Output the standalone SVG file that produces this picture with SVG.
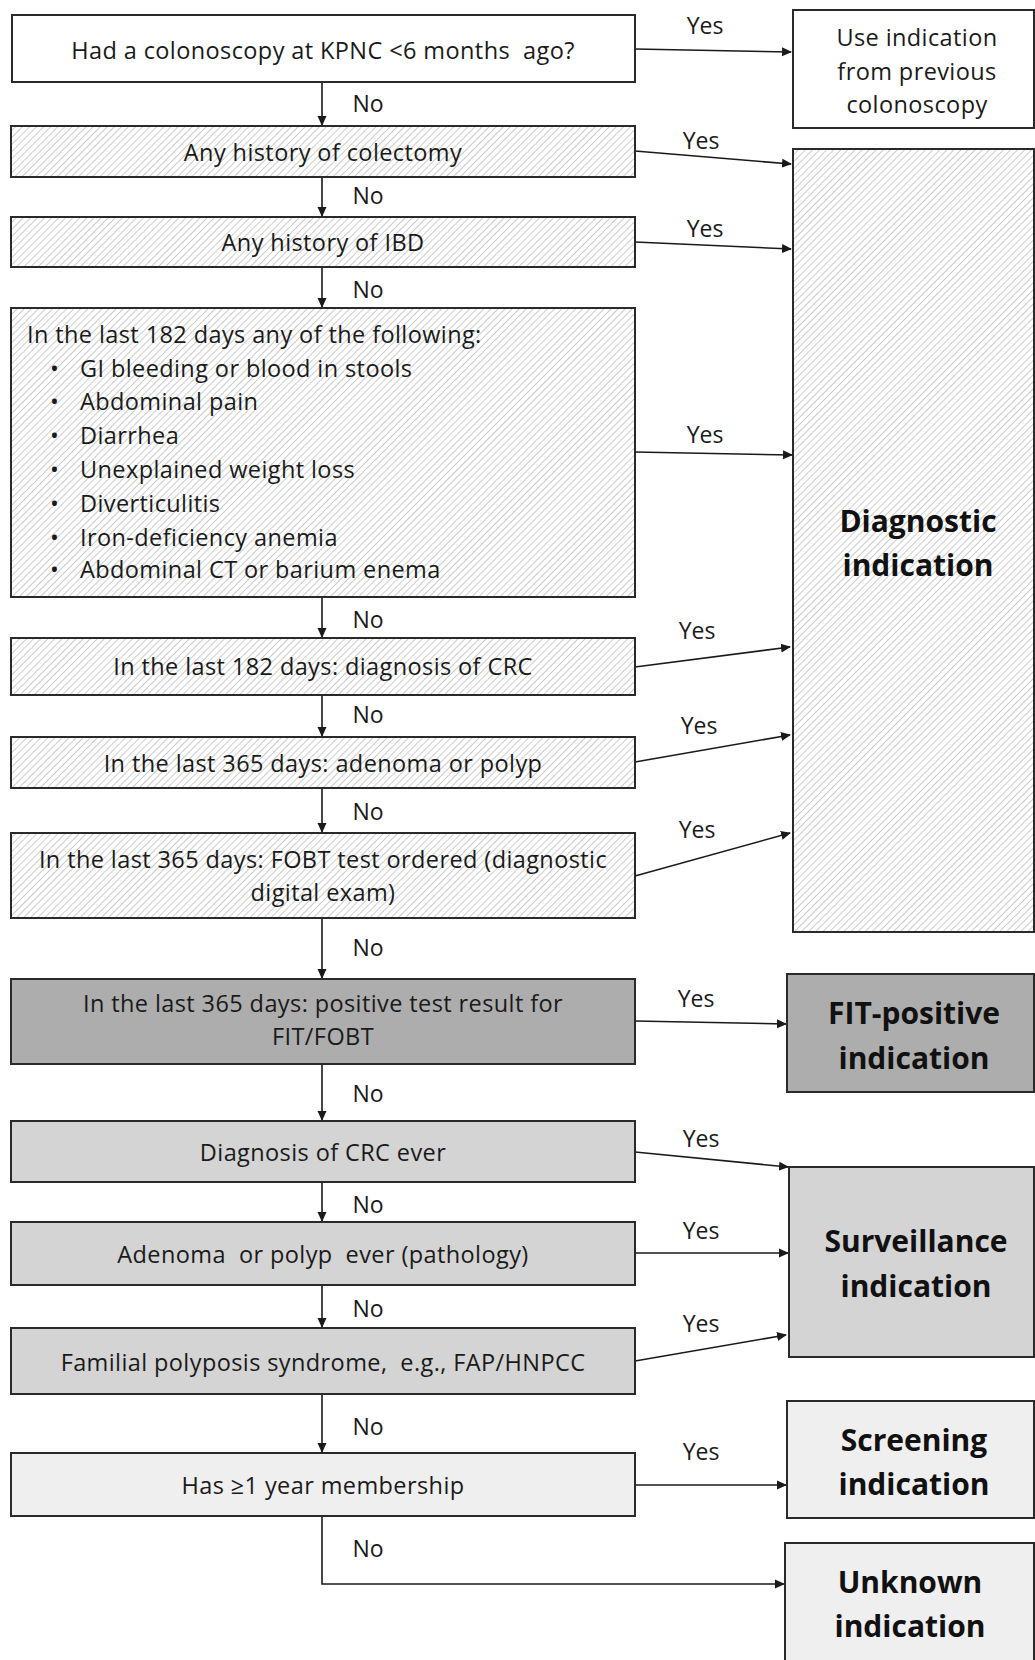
<svg xmlns="http://www.w3.org/2000/svg" width="1035" height="1660" viewBox="0 0 1035 1660">
<style>
.t{font-family:"Open Sans","Noto Sans","Liberation Sans",sans-serif;font-size:23.5px;letter-spacing:0.4px;fill:#1a1a1a;dominant-baseline:central;white-space:pre}
.c{text-anchor:middle}
.b{font-family:"Open Sans","Noto Sans","Liberation Sans",sans-serif;font-size:30px;font-weight:bold;fill:#111;text-anchor:middle;dominant-baseline:central}
.box{stroke:#2a2a2a;stroke-width:2}
.w{fill:#fff}
.h{fill:url(#hatch)}
.g1{fill:#adadad}
.g2{fill:#d4d4d4}
.g3{fill:#efefef}
.ln{stroke:#1a1a1a;stroke-width:1.6;fill:none}
.lbl{font-family:"Open Sans","Noto Sans","Liberation Sans",sans-serif;font-size:23px;fill:#1a1a1a;text-anchor:middle;dominant-baseline:central}
</style>
<defs>
<pattern id="hatch" patternUnits="userSpaceOnUse" width="5" height="5" patternTransform="rotate(45)">
<rect width="5" height="5" fill="#fff"/>
<line x1="0" y1="0" x2="0" y2="5" stroke="#b0b0b0" stroke-width="1.3"/>
</pattern>
<marker id="arr" markerWidth="10" markerHeight="10" refX="9" refY="5" orient="auto" markerUnits="userSpaceOnUse">
<path d="M0,0.5 L10,5 L0,9.5 Z" fill="#1a1a1a"/>
</marker>
</defs>
<rect width="1035" height="1660" fill="#fff"/>

<g id="connectors">
<line class="ln" x1="322" y1="82" x2="322" y2="125" marker-end="url(#arr)"/>
<line class="ln" x1="322" y1="177" x2="322" y2="216" marker-end="url(#arr)"/>
<line class="ln" x1="322" y1="267" x2="322" y2="307" marker-end="url(#arr)"/>
<line class="ln" x1="322" y1="597" x2="322" y2="637" marker-end="url(#arr)"/>
<line class="ln" x1="322" y1="695" x2="322" y2="736" marker-end="url(#arr)"/>
<line class="ln" x1="322" y1="788" x2="322" y2="832" marker-end="url(#arr)"/>
<line class="ln" x1="322" y1="918" x2="322" y2="978" marker-end="url(#arr)"/>
<line class="ln" x1="322" y1="1064" x2="322" y2="1120" marker-end="url(#arr)"/>
<line class="ln" x1="322" y1="1182" x2="322" y2="1221" marker-end="url(#arr)"/>
<line class="ln" x1="322" y1="1285" x2="322" y2="1327" marker-end="url(#arr)"/>
<line class="ln" x1="322" y1="1394" x2="322" y2="1452" marker-end="url(#arr)"/>
<polyline class="ln" points="322,1516 322,1584 784,1584" marker-end="url(#arr)"/>

<line class="ln" x1="635" y1="49" x2="791" y2="52" marker-end="url(#arr)"/>
<line class="ln" x1="635" y1="151" x2="791" y2="164" marker-end="url(#arr)"/>
<line class="ln" x1="635" y1="242" x2="791" y2="249" marker-end="url(#arr)"/>
<line class="ln" x1="635" y1="452" x2="792" y2="455" marker-end="url(#arr)"/>
<line class="ln" x1="635" y1="667" x2="790" y2="647" marker-end="url(#arr)"/>
<line class="ln" x1="635" y1="762" x2="790" y2="735" marker-end="url(#arr)"/>
<line class="ln" x1="635" y1="876" x2="790" y2="833" marker-end="url(#arr)"/>
<line class="ln" x1="635" y1="1021" x2="786" y2="1024" marker-end="url(#arr)"/>
<line class="ln" x1="635" y1="1152" x2="788" y2="1167" marker-end="url(#arr)"/>
<line class="ln" x1="635" y1="1253" x2="788" y2="1253" marker-end="url(#arr)"/>
<line class="ln" x1="635" y1="1361" x2="786" y2="1335" marker-end="url(#arr)"/>
<line class="ln" x1="635" y1="1485" x2="786" y2="1485" marker-end="url(#arr)"/>

<text class="lbl" x="368" y="103">No</text>
<text class="lbl" x="368" y="195">No</text>
<text class="lbl" x="368" y="289">No</text>
<text class="lbl" x="368" y="619">No</text>
<text class="lbl" x="368" y="714">No</text>
<text class="lbl" x="368" y="811">No</text>
<text class="lbl" x="368" y="947">No</text>
<text class="lbl" x="368" y="1093">No</text>
<text class="lbl" x="368" y="1204">No</text>
<text class="lbl" x="368" y="1308">No</text>
<text class="lbl" x="368" y="1426">No</text>
<text class="lbl" x="368" y="1548">No</text>

<text class="lbl" x="705" y="25">Yes</text>
<text class="lbl" x="701" y="140">Yes</text>
<text class="lbl" x="705" y="228">Yes</text>
<text class="lbl" x="705" y="434">Yes</text>
<text class="lbl" x="697" y="630">Yes</text>
<text class="lbl" x="699" y="725">Yes</text>
<text class="lbl" x="697" y="829">Yes</text>
<text class="lbl" x="696" y="998">Yes</text>
<text class="lbl" x="701" y="1138">Yes</text>
<text class="lbl" x="701" y="1230">Yes</text>
<text class="lbl" x="701" y="1323">Yes</text>
<text class="lbl" x="701" y="1451">Yes</text>
</g>

<g id="n1"><rect class="box w" x="12" y="15" width="623" height="67"/>
<text class="t c" x="323" y="50">Had a colonoscopy at KPNC &lt;6 months  ago?</text></g>

<g id="n2"><rect class="box h" x="11" y="126" width="624" height="51"/>
<text class="t c" x="323" y="152">Any history of colectomy</text></g>

<g id="n3"><rect class="box h" x="11" y="217" width="624" height="50"/>
<text class="t c" x="323" y="242">Any history of IBD</text></g>

<g id="n4"><rect class="box h" x="11" y="308" width="624" height="289"/>
<text class="t" x="27" y="334">In the last 182 days any of the following:</text>
<text class="t" x="50" y="368">•</text><text class="t" x="80" y="368">GI bleeding or blood in stools</text>
<text class="t" x="50" y="401">•</text><text class="t" x="80" y="401">Abdominal pain</text>
<text class="t" x="50" y="435">•</text><text class="t" x="80" y="435">Diarrhea</text>
<text class="t" x="50" y="469">•</text><text class="t" x="80" y="469">Unexplained weight loss</text>
<text class="t" x="50" y="503">•</text><text class="t" x="80" y="503">Diverticulitis</text>
<text class="t" x="50" y="537">•</text><text class="t" x="80" y="537">Iron-deficiency anemia</text>
<text class="t" x="50" y="569">•</text><text class="t" x="80" y="569">Abdominal CT or barium enema</text>
</g>

<g id="n5"><rect class="box h" x="11" y="638" width="624" height="57"/>
<text class="t c" x="323" y="666">In the last 182 days: diagnosis of CRC</text></g>

<g id="n6"><rect class="box h" x="11" y="737" width="624" height="51"/>
<text class="t c" x="323" y="763">In the last 365 days: adenoma or polyp</text></g>

<g id="n7"><rect class="box h" x="11" y="833" width="624" height="85"/>
<text class="t c" x="323" y="859">In the last 365 days: FOBT test ordered (diagnostic</text>
<text class="t c" x="323" y="892">digital exam)</text></g>

<g id="n8"><rect class="box g1" x="11" y="979" width="624" height="85"/>
<text class="t c" x="323" y="1003">In the last 365 days: positive test result for</text>
<text class="t c" x="323" y="1036">FIT/FOBT</text></g>

<g id="n9"><rect class="box g2" x="11" y="1121" width="624" height="61"/>
<text class="t c" x="323" y="1152">Diagnosis of CRC ever</text></g>

<g id="n10"><rect class="box g2" x="11" y="1222" width="624" height="63"/>
<text class="t c" x="323" y="1254">Adenoma  or polyp  ever (pathology)</text></g>

<g id="n11"><rect class="box g2" x="11" y="1328" width="624" height="66"/>
<text class="t c" x="323" y="1362">Familial polyposis syndrome,  e.g., FAP/HNPCC</text></g>

<g id="n12"><rect class="box g3" x="11" y="1453" width="624" height="63"/>
<text class="t c" x="323" y="1485">Has ≥1 year membership</text></g>

<g id="o1"><rect class="box w" x="793" y="10" width="241" height="118"/>
<text class="t c" x="917" y="37">Use indication</text>
<text class="t c" x="917" y="71">from previous</text>
<text class="t c" x="917" y="104">colonoscopy</text></g>

<g id="o2"><rect class="box h" x="793" y="149" width="241" height="783"/>
<text class="b" x="918" y="520">Diagnostic</text>
<text class="b" x="918" y="564">indication</text></g>

<g id="o3"><rect class="box g1" x="787" y="974" width="247" height="118"/>
<text class="b" x="914" y="1012">FIT-positive</text>
<text class="b" x="914" y="1057">indication</text></g>

<g id="o4"><rect class="box g2" x="789" y="1167" width="245" height="190"/>
<text class="b" x="916" y="1240">Surveillance</text>
<text class="b" x="916" y="1285">indication</text></g>

<g id="o5"><rect class="box g3" x="787" y="1401" width="247" height="117"/>
<text class="b" x="914" y="1439">Screening</text>
<text class="b" x="914" y="1483">indication</text></g>

<g id="o6"><rect class="box g3" x="785" y="1543" width="249" height="125"/>
<text class="b" x="910" y="1581">Unknown</text>
<text class="b" x="910" y="1625">indication</text></g>
</svg>
